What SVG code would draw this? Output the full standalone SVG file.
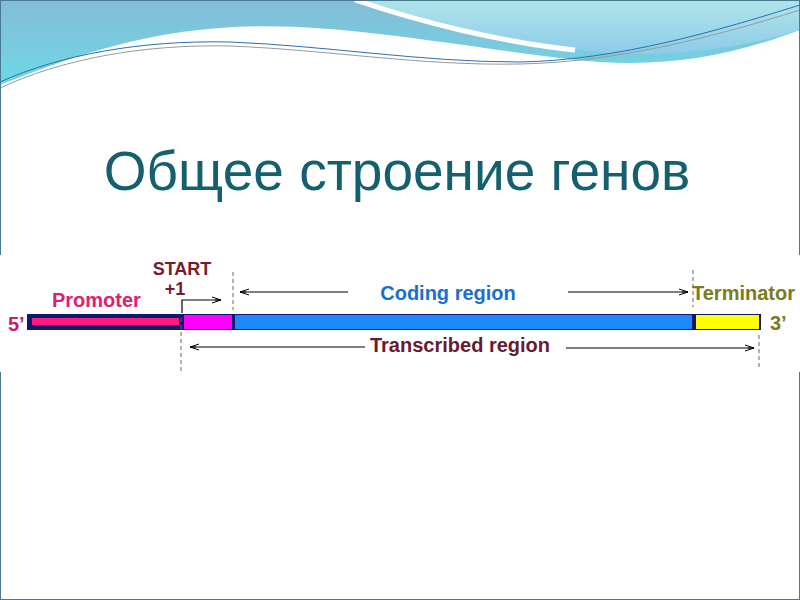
<svg xmlns="http://www.w3.org/2000/svg" width="800" height="600" viewBox="0 0 800 600">
<defs>
<linearGradient id="g1" x1="0" y1="0" x2="0" y2="1"><stop offset="0" stop-color="#84bcd8"/><stop offset="1" stop-color="#6fd8e4"/></linearGradient>
<linearGradient id="g2" x1="0" y1="0" x2="0" y2="1"><stop offset="0" stop-color="#b0e4ea"/><stop offset="1" stop-color="#8ccce8"/></linearGradient>
<marker id="ah" markerWidth="10" markerHeight="8" refX="9" refY="4" orient="auto" markerUnits="userSpaceOnUse"><path d="M0,1 L9,4 L0,7 M3,4 L9,4" fill="none" stroke="#000" stroke-width="1"/></marker>
<style>
.lb{font-family:"Liberation Sans",Arial,sans-serif;font-weight:bold;font-size:20px}
.ar{stroke:#000;stroke-width:1.2;fill:none;marker-end:url(#ah)}
.ds{stroke:#666;stroke-width:1;stroke-dasharray:4,3}
</style>
</defs>
<rect width="800" height="600" fill="#fff"/>
<g id="header">
<path d="M0,0 H800 V30 C720,60 650,70 560,58 C430,42 320,20 220,28 C120,35 40,70 0,85 Z" fill="url(#g1)"/>
<path d="M360,0 H800 V30 C720,55 640,58 580,50 C500,40 430,22 360,0 Z" fill="url(#g2)"/>
<path d="M355,0 C420,22 500,42 575,50" fill="none" stroke="#fff" stroke-width="5"/>
<path d="M0,82 C60,55 140,40 230,42 C330,46 420,62 520,62 C620,60 720,30 800,5" fill="none" stroke="#2a70b0" stroke-width="1"/>
<path d="M0,88 C60,60 140,44 230,46 C330,50 420,66 520,64 C620,62 720,35 800,10" fill="none" stroke="#999" stroke-width="1"/>
<rect x="0.5" y="0.5" width="799" height="599" fill="none" stroke="#4a7a90" stroke-width="1"/>
</g>
<text id="title" x="397" y="190" text-anchor="middle" font-family="Liberation Sans,Arial,sans-serif" font-size="55" fill="#14606e">Общее строение генов</text>
<rect x="0" y="255" width="800" height="117" fill="#fff"/>
<g id="gene">
<rect x="27" y="314" width="734" height="16" fill="#10186e"/>
<rect x="32" y="318" width="147" height="7" fill="#ff1a80"/>
<rect x="184" y="315" width="48" height="14" fill="#ff00ff"/>
<rect x="235" y="315" width="457" height="14" fill="#1e88ff"/>
<rect x="696" y="315" width="63" height="14" fill="#ffff00"/>
</g>
<g id="connectors">
<line class="ds" x1="181" y1="318" x2="181" y2="372"/>
<line class="ds" x1="233" y1="272" x2="233" y2="310"/>
<line class="ds" x1="693" y1="270" x2="693" y2="307"/>
<line class="ds" x1="759" y1="335" x2="759" y2="370"/>
<path class="ar" d="M182,313 V300 H221"/>
<line class="ar" x1="348" y1="292" x2="240" y2="292"/>
<line class="ar" x1="568" y1="292" x2="688" y2="292"/>
<line class="ar" x1="365" y1="347" x2="190" y2="347"/>
<line class="ar" x1="566" y1="348" x2="754" y2="348"/>
</g>
<g id="labels" class="lb">
<text x="182" y="275" text-anchor="middle" fill="#7a1a30" font-size="18">START</text>
<text x="175" y="295" text-anchor="middle" fill="#7a1a30" font-size="18">+1</text>
<text x="52" y="307" fill="#e0206f">Promoter</text>
<text x="8" y="331" fill="#c0206f">5’</text>
<text x="448" y="300" text-anchor="middle" fill="#1a6fd0">Coding region</text>
<text x="692" y="300" fill="#7a7a20">Terminator</text>
<text x="770" y="330" fill="#7a7a20">3’</text>
<text x="460" y="352" text-anchor="middle" fill="#6a1a30">Transcribed region</text>
</g>
</svg>
